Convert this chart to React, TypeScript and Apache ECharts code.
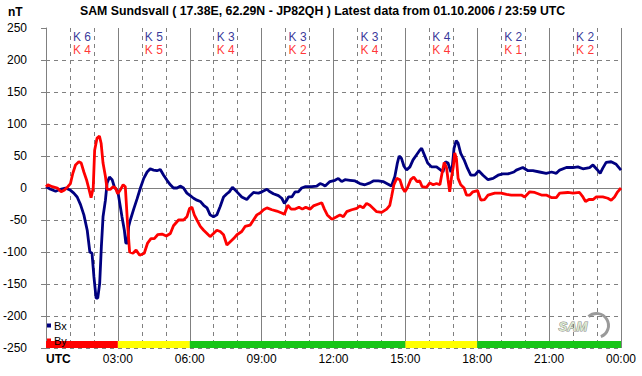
import React, { useEffect, useRef } from "react";
import * as echarts from "echarts";

const BX_T = [0,0.19,0.4,0.6,0.81,1.0,1.16,1.3,1.44,1.58,1.72,1.83,1.92,2.0,2.09,2.16,2.24,2.31,2.38,2.48,2.55,2.65,2.76,2.85,3.0,3.08,3.17,3.27,3.33,3.41,3.45,3.52,3.66,3.8,3.94,4.08,4.22,4.35,4.49,4.63,4.77,4.91,5.05,5.19,5.32,5.47,5.6,5.74,5.88,6.02,6.16,6.3,6.44,6.58,6.72,6.85,6.99,7.13,7.27,7.41,7.55,7.65,7.78,7.97,8.17,8.38,8.52,8.66,8.87,9.01,9.22,9.35,9.49,9.7,9.84,9.95,10.05,10.12,10.26,10.4,10.53,10.67,10.81,11.09,11.3,11.44,11.57,11.65,11.85,12.06,12.2,12.34,12.48,12.69,12.9,13.1,13.31,13.52,13.66,13.87,14.07,14.28,14.42,14.56,14.66,14.74,14.84,14.94,15.05,15.19,15.32,15.47,15.6,15.68,15.79,15.93,16.09,16.3,16.48,16.57,16.67,16.78,16.9,16.95,17.03,17.12,17.2,17.31,17.45,17.59,17.73,17.9,18.06,18.24,18.45,18.66,18.87,19.07,19.28,19.53,19.63,19.9,20.12,20.32,20.6,20.88,21.1,21.3,21.44,21.72,22.0,22.2,22.41,22.69,22.83,23.0,23.13,23.24,23.38,23.59,23.8,24.0];
const BX_V = [2,-2,-5,-2,0,-3,-8,-14,-26,-42,-66,-100,-102,-139,-172,-172,-149,-92,-45,-19,8,17,13,2,-6,-24,-45,-66,-86,-86,-60,-50,-33,-17,0,15,25,30,28,27,29,20,12,5,0,0,3,0,-8,-12,-16,-19,-21,-27,-31,-42,-45,-42,-29,-14,-9,-6,1,-6,-14,-18,-12,-7,-8,-6,-2,-6,-9,-12,-16,-24,-19,-14,-14,-6,-6,0,2,2,3,7,5,3,10,12,15,10,13,12,11,7,5,8,11,11,10,6,3,18,38,50,46,34,28,33,44,52,59,62,52,39,33,33,28,25,41,39,25,30,62,74,70,54,44,31,20,20,27,20,13,15,20,22,22,25,28,32,27,27,25,23,25,23,28,32,32,33,30,32,36,29,23,31,40,41,37,28];

const BY_T = [0,0.08,0.26,0.47,0.63,0.77,0.91,1.02,1.12,1.23,1.37,1.47,1.58,1.69,1.78,1.88,1.97,2.03,2.13,2.23,2.3,2.38,2.48,2.55,2.69,2.8,2.9,2.99,3.1,3.22,3.31,3.41,3.49,3.63,3.76,3.91,4.1,4.24,4.38,4.52,4.66,4.84,5.02,5.19,5.32,5.53,5.74,5.88,5.99,6.09,6.19,6.3,6.44,6.58,6.72,6.85,6.99,7.13,7.27,7.41,7.55,7.69,7.83,7.97,8.17,8.31,8.52,8.66,8.8,8.94,9.08,9.22,9.43,9.63,9.84,9.95,10.09,10.23,10.4,10.56,10.7,10.84,11.02,11.16,11.37,11.51,11.62,11.74,11.93,12.13,12.27,12.41,12.55,12.76,12.97,13.1,13.24,13.38,13.52,13.66,13.8,14.01,14.22,14.35,14.42,14.52,14.64,14.77,14.88,14.98,15.08,15.22,15.35,15.49,15.6,15.7,15.88,16.02,16.16,16.3,16.44,16.53,16.62,16.72,16.78,16.85,16.93,17.0,17.06,17.13,17.2,17.31,17.45,17.55,17.69,17.82,18.01,18.15,18.31,18.45,18.73,19.0,19.22,19.42,19.84,19.98,20.19,20.4,20.68,20.88,21.09,21.3,21.44,21.78,22.0,22.27,22.41,22.52,22.66,22.83,22.97,23.24,23.45,23.59,23.73,23.86,24.0];
const BY_V = [2,5,2,0,-6,-3,2,7,23,36,41,39,25,13,0,-15,0,59,78,81,70,39,18,-2,-2,2,0,-9,-3,5,2,-60,-100,-102,-97,-105,-102,-86,-79,-79,-73,-72,-75,-71,-59,-50,-50,-45,-32,-30,-42,-50,-60,-66,-71,-76,-71,-66,-68,-73,-89,-84,-79,-73,-68,-60,-58,-50,-42,-39,-34,-31,-34,-36,-39,-41,-27,-33,-33,-30,-33,-30,-33,-28,-25,-23,-33,-42,-49,-45,-42,-45,-37,-34,-32,-28,-31,-24,-27,-32,-37,-38,-33,-27,-14,5,15,13,0,-6,0,13,17,10,11,2,1,8,5,7,5,23,40,31,13,-6,18,33,55,46,15,5,0,-11,-11,-6,-4,-19,-18,-11,-8,-8,-10,-11,-11,-14,-6,-7,-11,-11,-15,-15,-8,-7,-8,-7,-14,-21,-18,-18,-14,-14,-16,-19,-14,-6,0];

const K_BX = [6, 5, 3, 3, 3, 4, 2, 2];
const K_BY = [4, 5, 4, 2, 4, 4, 1, 2];
const X_TICK_LABELS = ["UTC", "03:00", "06:00", "09:00", "12:00", "15:00", "18:00", "21:00", "00:00"];
const STATUS_START = [0, 3, 6, 15, 18];
const STATUS_END = [3, 6, 15, 18, 24];
const STATUS_LEVEL = ["red", "yellow", "green", "yellow", "green"];

const STATUS_COLORS: Record<string, string> = {
  red: "#ff0000",
  yellow: "#ffff00",
  green: "#19c519",
};

const FONT = "'Liberation Sans', Arial, sans-serif";
const GRAY = "#808080";

export default function App() {
  const ref = useRef<HTMLDivElement>(null);
  useEffect(() => {
    if (!ref.current) return;
    const chart = echarts.init(ref.current, undefined, { renderer: "svg" });
    const bx = BX_T.map((t, i) => [t, BX_V[i]]);
    const by = BY_T.map((t, i) => [t, BY_V[i]]);
    const kBx = K_BX.map((k, i) => [1.5 + 3 * i, 236, k]);
    const kBy = K_BY.map((k, i) => [1.5 + 3 * i, 215, k]);
    const areas = STATUS_START.map((s, i) => [
      { xAxis: s, yAxis: -250, itemStyle: { color: STATUS_COLORS[STATUS_LEVEL[i]], opacity: 1 } },
      { xAxis: STATUS_END[i], yAxis: -239 },
    ]);
    chart.setOption({
      animation: false,
      backgroundColor: "#ffffff",
      textStyle: { fontFamily: FONT },
      title: {
        text: "SAM Sundsvall ( 17.38E, 62.29N - JP82QH ) Latest data from 01.10.2006 / 23:59 UTC",
        left: 80,
        top: 5,
        padding: 0,
        textStyle: { fontSize: 12.3, fontWeight: "bold", color: "#000", fontFamily: FONT },
      },
      grid: { left: 45, right: 21, top: 28, bottom: 28, containLabel: false },
      legend: {
        data: ["Bx", "By"],
        orient: "vertical",
        left: 47,
        top: 320,
        padding: 0,
        itemGap: 4,
        itemWidth: 4,
        itemHeight: 4,
        icon: "rect",
        textStyle: { fontSize: 11, color: "#000", fontFamily: FONT, padding: [0, 0, 0, -2] },
      },
      xAxis: [
        {
          type: "value",
          min: 0,
          max: 24,
          interval: 1,
          axisLine: { show: false },
          axisTick: { show: false },
          axisLabel: { show: false },
          splitLine: { show: true, lineStyle: { color: GRAY, type: [4, 4], width: 1 } },
        },
        {
          type: "value",
          position: "bottom",
          min: 0,
          max: 24,
          interval: 3,
          axisLine: { show: true, lineStyle: { color: GRAY, width: 1 } },
          axisTick: { show: true, length: 4, lineStyle: { color: GRAY } },
          axisLabel: {
            show: true,
            margin: 5,
            color: "#000",
            fontSize: 12,
            fontFamily: FONT,
            formatter: (v: number) => (v === 0 ? "" : X_TICK_LABELS[Math.round(v / 3)]),
          },
          splitLine: { show: true, lineStyle: { color: GRAY, type: "solid", width: 1 } },
        },
      ],
      yAxis: [
        {
          type: "value",
          min: -250,
          max: 250,
          interval: 50,
          axisLine: { show: true, lineStyle: { color: GRAY, width: 1 } },
          axisTick: { show: true, length: 5, lineStyle: { color: GRAY } },
          axisLabel: { margin: 19, color: "#000", fontSize: 12, fontFamily: FONT },
          splitLine: { show: true, showMaxLine: false, lineStyle: { color: GRAY, type: [4, 4], width: 1 } },
        },
        {
          type: "value",
          position: "left",
          min: -250,
          max: 250,
          interval: 250,
          axisLine: { show: false },
          axisTick: { show: false },
          axisLabel: { show: false },
          splitLine: { show: true, showMinLine: false, showMaxLine: false, lineStyle: { color: GRAY, type: "solid", width: 1 } },
        },
      ],
      series: [
        {
          name: "Bx",
          type: "line",
          data: bx,
          showSymbol: false,
          symbol: "none",
          color: "#000080",
          lineStyle: { color: "#000080", width: 2.8 },
          markArea: { silent: true, data: areas },
          z: 3,
        },
        {
          name: "By",
          type: "line",
          data: by,
          showSymbol: false,
          symbol: "none",
          color: "#ff0000",
          lineStyle: { color: "#ff0000", width: 2.8 },
          z: 4,
        },
        {
          name: "KBx",
          type: "scatter",
          data: kBx,
          symbolSize: 0,
          silent: true,
          label: {
            show: true,
            position: "inside",
            color: "#000080",
            fontSize: 12,
            fontFamily: FONT,
            formatter: (p: any) => "K " + p.data[2],
          },
        },
        {
          name: "KBy",
          type: "scatter",
          data: kBy,
          symbolSize: 0,
          silent: true,
          label: {
            show: true,
            position: "inside",
            color: "#ff0000",
            fontSize: 12,
            fontFamily: FONT,
            formatter: (p: any) => "K " + p.data[2],
          },
        },
      ],
      graphic: [
        {
          type: "text",
          left: 8,
          top: 6,
          style: { text: "nT", fontSize: 12, fontWeight: "bold", fill: "#000", fontFamily: FONT },
        },
        {
          type: "text",
          left: 46,
          top: 353,
          style: { text: "UTC", fontSize: 12, fontWeight: "bold", fill: "#000", fontFamily: FONT },
        },
        {
          type: "group",
          left: 558,
          top: 311,
          children: [
            {
              type: "arc",
              shape: { cx: 40, cy: 12, r: 12, startAngle: -2.3, endAngle: 1.2 },
              style: { stroke: "#9a9a9a", lineWidth: 3, fill: "none" },
            },
            {
              type: "text",
              x: 2,
              y: 6,
              style: {
                text: "SAM",
                fontSize: 13,
                fontStyle: "italic",
                fontWeight: "bold",
                fill: "#dce8d0",
                stroke: "#8a8a8a",
                lineWidth: 1,
                fontFamily: FONT,
              },
            },
          ],
        },
      ],
    });
    return () => chart.dispose();
  }, []);
  return <div ref={ref} style={{ width: 642, height: 376, position: "absolute", left: 0, top: 0 }} />;
}
